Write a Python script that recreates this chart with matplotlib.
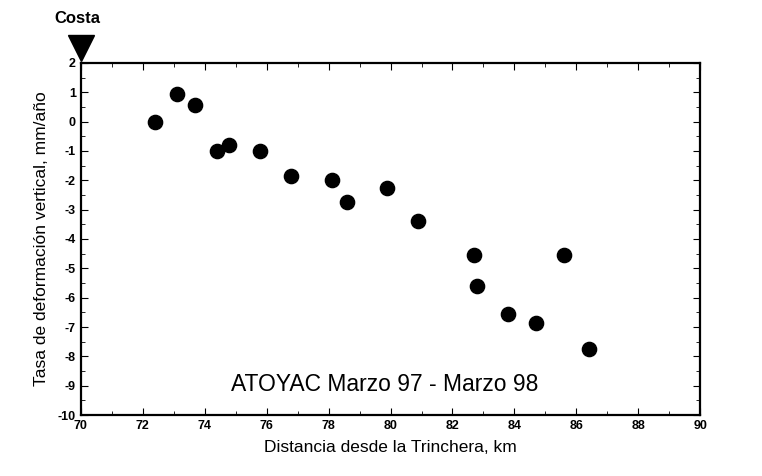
import matplotlib.pyplot as plt
from matplotlib.ticker import MultipleLocator

plt.rcParams['font.family'] = ['Liberation Sans', 'DejaVu Sans']
plt.rcParams['axes.unicode_minus'] = False

distancia = [72.4, 73.1, 73.7, 74.4, 74.8, 75.8, 76.8, 78.1, 78.6, 79.9, 80.9,
             82.7, 82.8, 83.8, 84.7, 85.6, 86.4]
tasa = [0.0, 0.95, 0.55, -1.0, -0.8, -1.0, -1.85, -2.0, -2.75, -2.25, -3.4,
        -4.55, -5.6, -6.55, -6.85, -4.55, -7.75]
costa_x = 70

fig = plt.figure(figsize=(7.62, 4.76), dpi=100)
ax = fig.add_axes([0.106, 0.128, 0.813, 0.74])
ax.scatter(distancia, tasa, s=105, c='black', zorder=3)

ax.set_xlim(70, 90)
ax.set_ylim(-10, 2)
ax.xaxis.set_major_locator(MultipleLocator(2))
ax.xaxis.set_minor_locator(MultipleLocator(1))
ax.yaxis.set_major_locator(MultipleLocator(1))
ax.yaxis.set_minor_locator(MultipleLocator(0.5))
ax.tick_params(which='both', direction='in', top=True, right=True, labelsize=9)
ax.tick_params(which='major', length=5)
ax.tick_params(which='minor', length=3)
for lbl in ax.get_xticklabels() + ax.get_yticklabels():
    lbl.set_fontweight('bold')
for s in ax.spines.values():
    s.set_linewidth(1.6)

ax.set_xlabel("Distancia desde la Trinchera, km", fontsize=12.5, labelpad=6)
ax.set_ylabel("Tasa de deformación vertical, mm/año", fontsize=12.5, labelpad=6)

# marcador de la costa
ax.plot([costa_x], [2.5], marker='v', markersize=19, color='black', clip_on=False)
ax.text(costa_x - 0.1, 3.5, "Costa", ha='center', va='center', fontsize=12,
        fontweight='bold')

ax.text(79.8, -8.95, "ATOYAC Marzo 97 - Marzo 98", ha='center', va='center',
        fontsize=16.5)

plt.savefig("out.png", dpi=100)
